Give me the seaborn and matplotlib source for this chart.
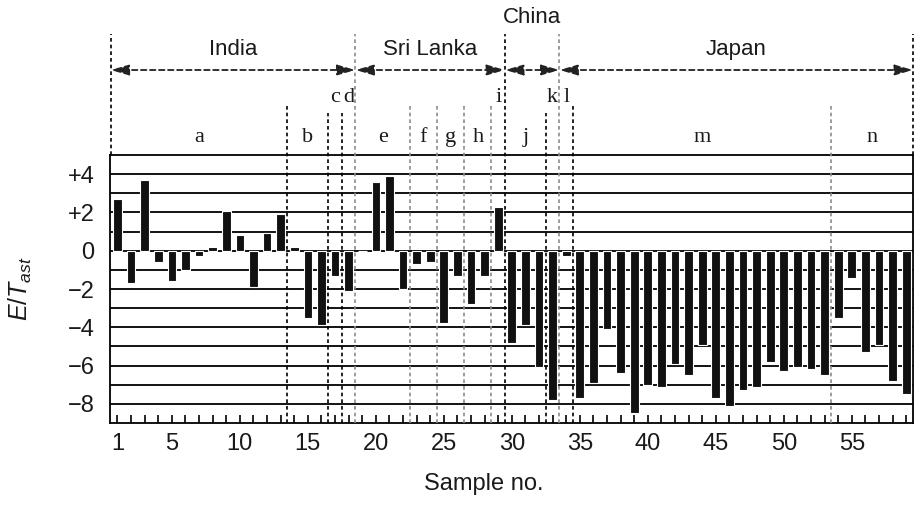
import numpy as np
import matplotlib
matplotlib.use('Agg')
import matplotlib.pyplot as plt
import seaborn as sns

# 数据
samples = list(range(1, 60))
eit_values = [2.7, -1.7, 3.7, -0.6, -1.6, -1.0, -0.3, 0.2, 2.1, 0.8,
              -1.9, 0.9, 1.9, 0.2, -3.5, -3.9, -1.3, -2.1, 0.0, 3.6,
              3.9, -2.0, -0.7, -0.6, -3.8, -1.3, -2.8, -1.3, 2.3, -4.8,
              -3.9, -6.1, -7.8, -0.3, -7.7, -6.9, -4.1, -6.4, -8.5, -7.0,
              -7.1, -5.9, -6.5, -4.9, -7.7, -8.1, -7.3, -7.1, -5.8, -6.3,
              -6.1, -6.2, -6.5, -3.5, -1.4, -5.3, -4.9, -6.8, -7.5]
subgroups = ['a', 'b', 'c', 'd', 'e', 'f', 'g', 'h', 'i', 'j', 'k', 'l', 'm', 'n']
subgroup_bounds = [0.5, 13.5, 16.5, 17.5, 18.5, 22.5, 24.5, 26.5, 28.5, 29.5,
                   32.5, 33.5, 34.5, 53.5, 59.5]
countries = ['India', 'Sri Lanka', 'China', 'Japan']
country_bounds = [0.5, 18.5, 29.5, 33.5, 59.5]
xtick_labels = [1, 5, 10, 15, 20, 25, 30, 35, 40, 45, 50, 55]
ytick_values = [4, 2, 0, -2, -4, -6, -8]
ytick_labels = ['+4', '+2', '0', '\u22122', '\u22124', '\u22126', '\u22128']

sns.set_style('white')
plt.rcParams['font.family'] = ['Liberation Sans', 'DejaVu Sans']
plt.rcParams['mathtext.fontset'] = 'custom'
plt.rcParams['mathtext.it'] = 'Liberation Sans:italic'
plt.rcParams['mathtext.rm'] = 'Liberation Sans'
plt.rcParams['text.color'] = '#1a1a1a'
plt.rcParams['axes.labelcolor'] = '#1a1a1a'
plt.rcParams['xtick.color'] = '#1a1a1a'
plt.rcParams['ytick.color'] = '#1a1a1a'

fig = plt.figure(figsize=(9.19, 5.07), dpi=100)
ax = fig.add_axes([110 / 919, 1 - 423 / 507, 803 / 919, 268 / 507])

# 水平网格线
for v in range(-8, 5):
    ax.axhline(v, color='black', lw=1.3, zorder=1)

sns.barplot(x=samples, y=eit_values, native_scale=True, color='#111111',
            saturation=1, width=0.64, edgecolor='white', linewidth=0.8,
            errorbar=None, ax=ax, zorder=3)

ax.set_xlim(0.45, 59.5)
ax.set_ylim(-9, 5)

# 坐标轴
for s in ax.spines.values():
    s.set_color('black')
    s.set_linewidth(1.3)
ax.set_yticks(ytick_values, ytick_labels)
ax.tick_params(axis='y', length=0, pad=11, labelsize=17)
ax.set_xticks(xtick_labels, [str(t) for t in xtick_labels])
ax.set_xticks(samples, minor=True)
ax.tick_params(axis='x', which='both', direction='in', length=6, width=1.2,
               color='black', pad=7, labelsize=17, top=False, bottom=True)
ax.set_xlabel('Sample no.', fontsize=17)
ax.xaxis.set_label_coords(0.465, -0.185)
ax.set_ylabel(r'$\mathit{E/T}_{\mathit{ast}}$', fontsize=18)
ax.yaxis.set_label_coords(-0.095, 0.5)

# 分组竖线
gray_bounds = [18.5, 22.5, 24.5, 26.5, 28.5, 33.5, 53.5]
short_bounds = [16.5, 17.5, 32.5]
for b in subgroup_bounds[1:-1]:
    if b in country_bounds:
        top = 11.3
    elif b in short_bounds:
        top = 7.2
    else:
        top = 7.6
    col = '#8c8c8c' if b in gray_bounds else 'black'
    ax.plot([b, b], [-9, top], ls=(0, (2.2, 1.8)), color=col, lw=1.2,
            clip_on=False, zorder=4)
for b in [country_bounds[0], country_bounds[-1]]:
    ax.plot([b, b], [5, 11.3], ls=(0, (2.2, 1.8)), color='black', lw=1.2,
            clip_on=False)

# 国家箭头与名称
for i, name in enumerate(countries):
    x0, x1 = country_bounds[i], country_bounds[i + 1]
    ax.annotate('', xy=(x1, 9.44), xytext=(x0, 9.44), annotation_clip=False,
                arrowprops=dict(arrowstyle='<|-|>,head_length=1.1,head_width=0.32',
                                linestyle=(0, (3, 2)), color='#222222', lw=1.3,
                                shrinkA=0, shrinkB=0))
    ypos = 12.2 if name == 'China' else 10.5
    ax.text((x0 + x1) / 2, ypos, name, ha='center', va='center', fontsize=16)

# 子组字母
for i, letter in enumerate(subgroups):
    x0, x1 = subgroup_bounds[i], subgroup_bounds[i + 1]
    ypos = 8.0 if (x1 - x0) < 1.5 else 5.94
    ax.text((x0 + x1) / 2, ypos, letter, ha='center', va='center',
            fontsize=16, family=['Liberation Serif', 'DejaVu Serif'])

plt.savefig('out.png', dpi=100)
